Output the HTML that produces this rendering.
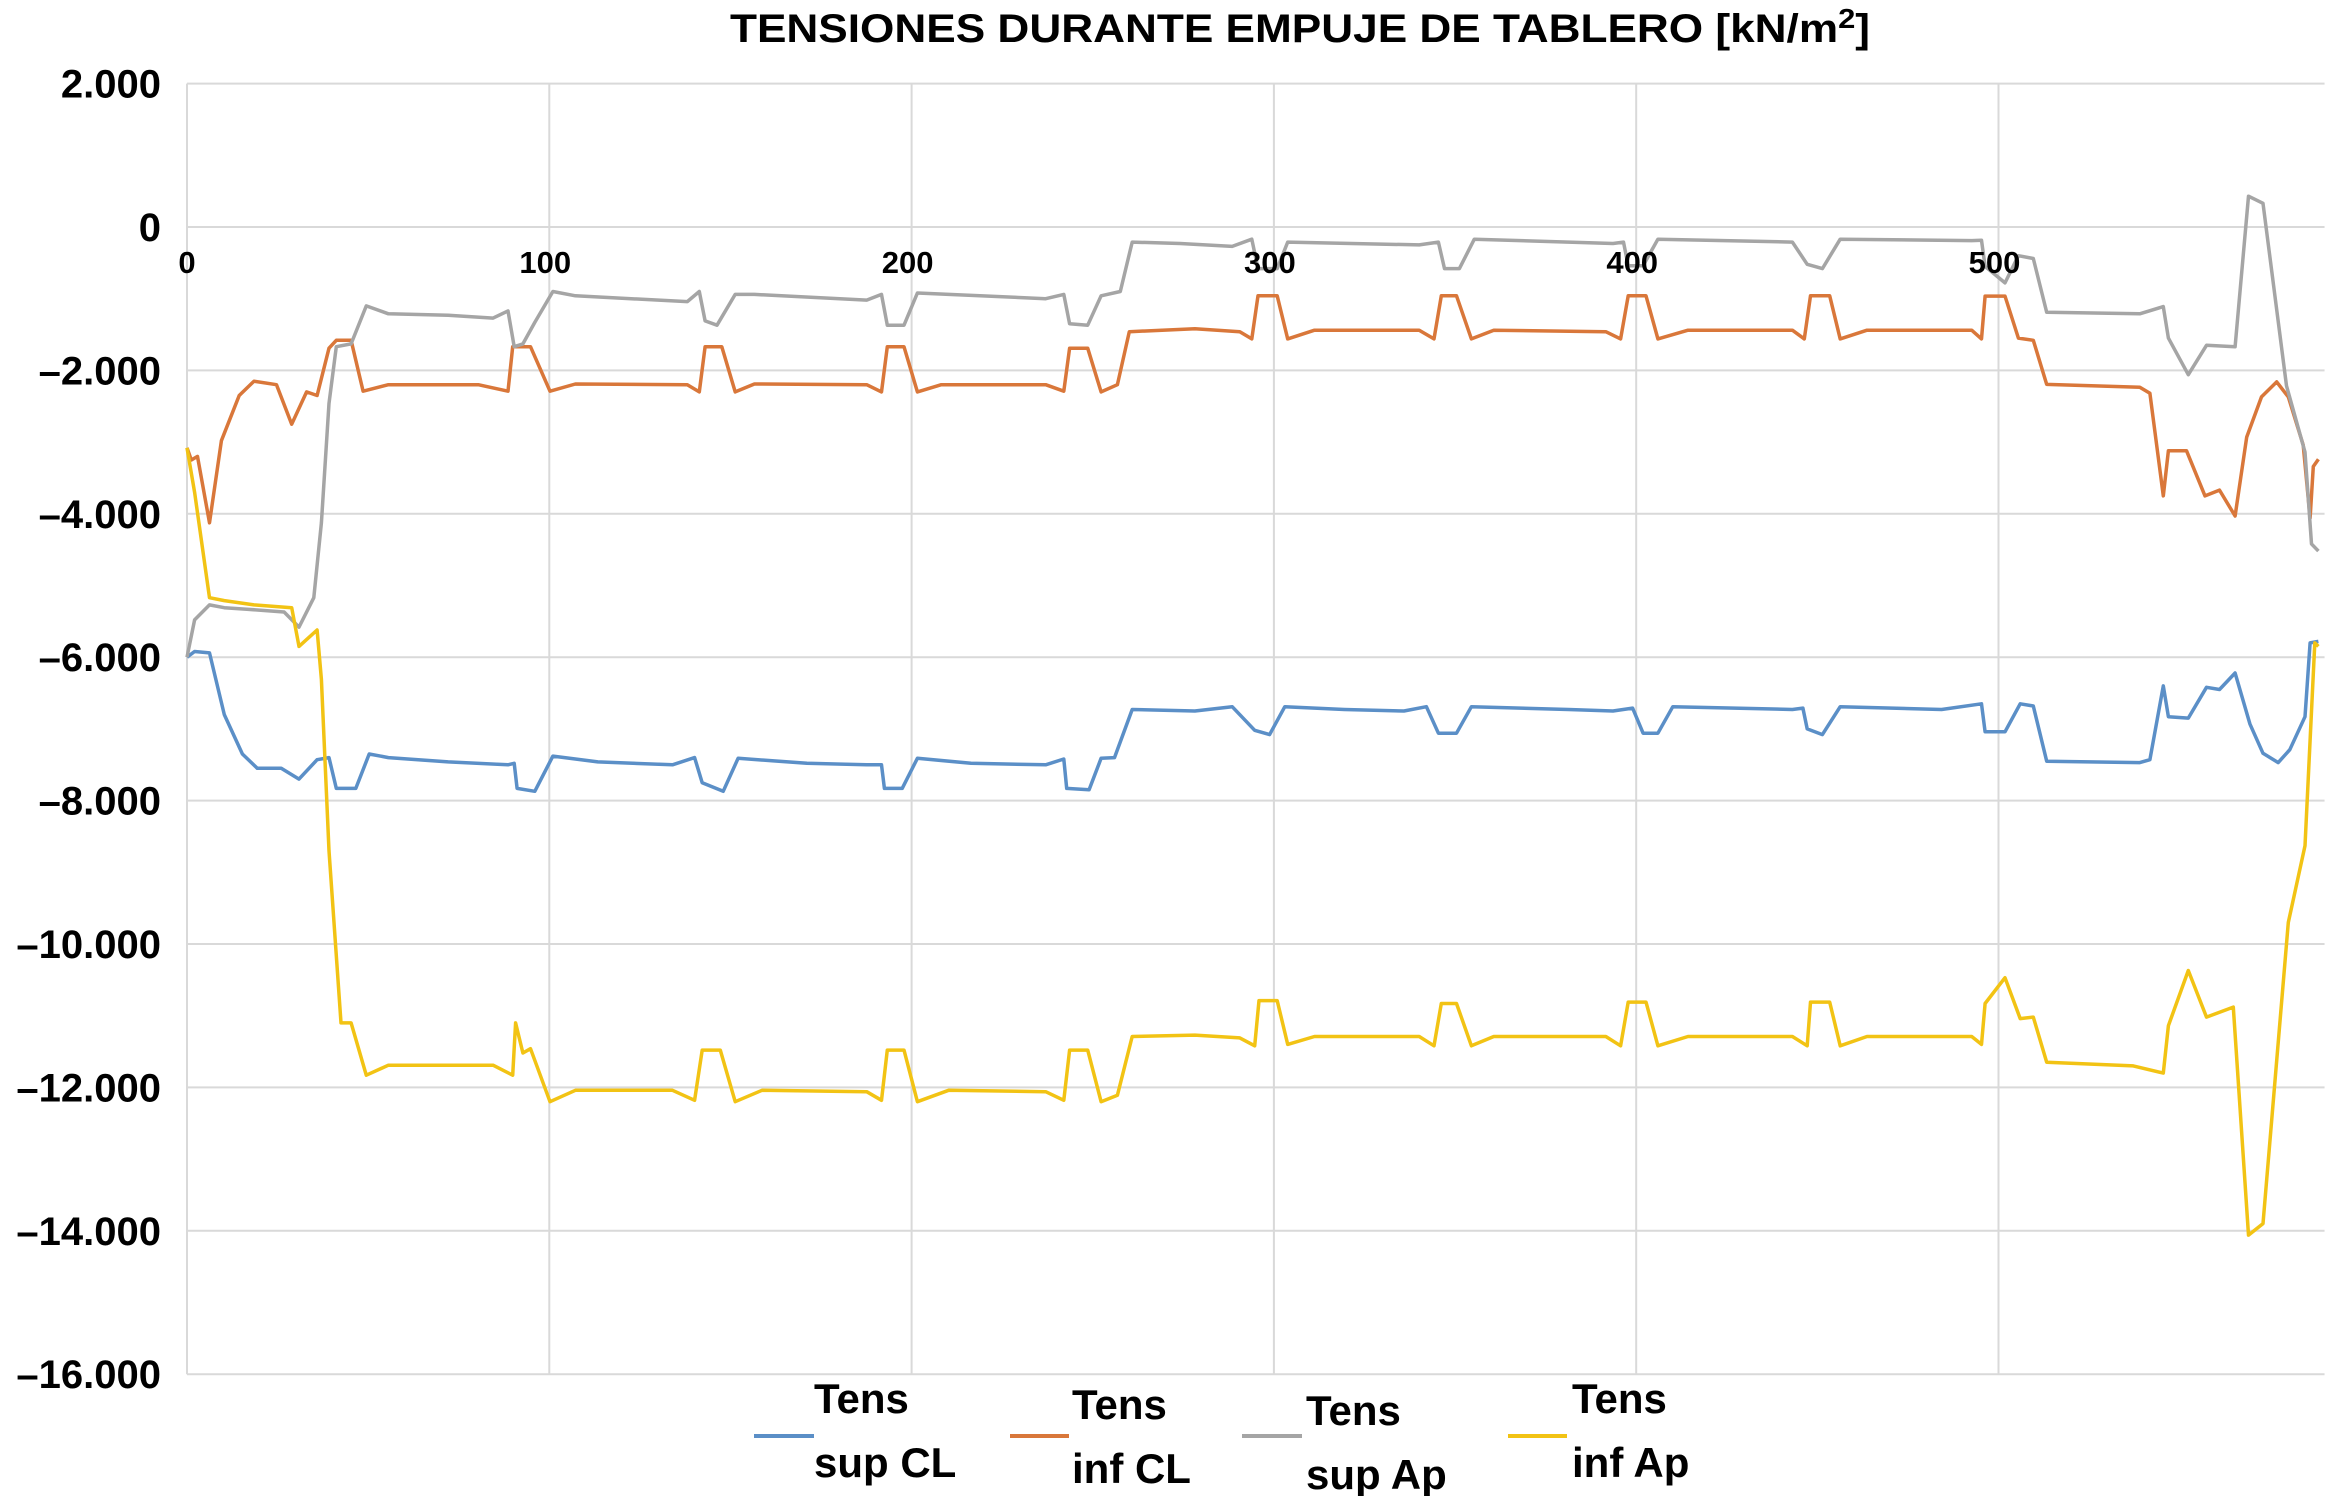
<!DOCTYPE html>
<html><head><meta charset="utf-8"><style>
html,body{margin:0;padding:0;background:#fff}
svg text{font-family:"Liberation Sans Narrow","Liberation Sans",sans-serif;font-weight:bold;fill:#000}
</style></head><body>
<svg id="chart" width="2331" height="1496" viewBox="0 0 2331 1496" xmlns="http://www.w3.org/2000/svg">
<text x="1300" y="42" text-anchor="middle" font-size="40" textLength="1140" lengthAdjust="spacingAndGlyphs">TENSIONES DURANTE EMPUJE DE TABLERO [kN/m<tspan font-size="28" dy="-14">2</tspan><tspan dy="14">]</tspan></text>
<g id="grid"></g>
<g id="series"></g>
<g id="axes"></g>
<g id="legend">
 <g>
  <line x1="754" y1="1436" x2="814" y2="1436" stroke="#5b8fc7" stroke-width="4"/>
  <text x="814" y="1413" font-size="42">Tens</text><text x="814" y="1477" font-size="42">sup CL</text></g>
 <g>
  <line x1="1010" y1="1436" x2="1069" y2="1436" stroke="#d9773a" stroke-width="4"/>
  <text x="1072" y="1419" font-size="42">Tens</text><text x="1072" y="1483" font-size="42">inf CL</text></g>
 <g>
  <line x1="1242" y1="1436" x2="1302" y2="1436" stroke="#a5a5a5" stroke-width="4"/>
  <text x="1306" y="1425" font-size="42">Tens</text><text x="1306" y="1489" font-size="42">sup Ap</text></g>
 <g>
  <line x1="1508" y1="1436" x2="1567" y2="1436" stroke="#f2c314" stroke-width="4"/>
  <text x="1572" y="1413" font-size="42">Tens</text><text x="1572" y="1477" font-size="42">inf Ap</text></g>
</g>
</svg>
<script>
const yTicks=[2000,0,-2000,-4000,-6000,-8000,-10000,-12000,-14000,-16000];
const yTickLabels=["2.000","0","\u20132.000","\u20134.000","\u20136.000","\u20138.000","\u201310.000","\u201312.000","\u201314.000","\u201316.000"];
const xTicks=[0,100,200,300,400,500];
const xTickLabels=["0","100","200","300","400","500"];
const seriesNames=["Tens sup CL","Tens inf CL","Tens sup Ap","Tens inf Ap"];
const supCL=[[0,-6000],[2.1,-5920],[6.2,-5940],[10.3,-6800],[15.3,-7350],[19.4,-7550],[26,-7550],[30.9,-7700],[35.9,-7430],[39.2,-7400],[41.2,-7830],[46.6,-7830],[50.3,-7350],[55.6,-7400],[72.1,-7460],[88.6,-7500],[90.3,-7480],[91.1,-7830],[96,-7870],[101,-7380],[113.4,-7460],[134,-7500],[140.1,-7400],[142.2,-7750],[148,-7870],[152.1,-7410],[171.1,-7480],[187.6,-7500],[191.7,-7500],[192.5,-7830],[197.4,-7830],[201.6,-7410],[216.4,-7480],[237,-7500],[242,-7420],[242.8,-7830],[249,-7850],[252.3,-7410],[256,-7400],[260.9,-6730],[278.2,-6750],[288.5,-6690],[294.7,-7020],[298.8,-7080],[303,-6690],[319.5,-6730],[335.9,-6750],[342.1,-6690],[345.4,-7060],[350.4,-7060],[354.5,-6690],[381.3,-6730],[393.6,-6750],[399,-6710],[401.9,-7060],[406,-7060],[410.1,-6690],[443.1,-6730],[446,-6710],[447.2,-7000],[451.4,-7080],[456.3,-6690],[484.3,-6730],[495.3,-6650],[496.3,-7040],[501.8,-7040],[506,-6650],[509.6,-6680],[513.3,-7450],[539,-7470],[541.8,-7430],[545.5,-6400],[546.9,-6830],[552.4,-6850],[557.4,-6420],[561,-6450],[565.3,-6220],[569.4,-6930],[573,-7340],[577.2,-7470],[580.4,-7290],[584.6,-6830],[586,-5800],[588.3,-5780]];
const infCL=[[0,-3080],[1.2,-3250],[2.9,-3200],[6.2,-4125],[9.5,-2980],[14.4,-2350],[18.5,-2150],[24.7,-2200],[28.9,-2750],[33,-2300],[35.9,-2350],[39.2,-1690],[41.2,-1580],[45.3,-1580],[48.6,-2290],[55.6,-2200],[80.4,-2200],[88.6,-2290],[89.9,-1670],[94.8,-1670],[100.2,-2290],[107.2,-2190],[138.1,-2200],[141.4,-2300],[143,-1670],[147.6,-1670],[151.3,-2300],[156.6,-2190],[187.6,-2200],[191.7,-2300],[193.3,-1670],[197.9,-1670],[201.6,-2300],[208.2,-2200],[237,-2200],[242,-2290],[243.6,-1690],[248.6,-1690],[252.3,-2300],[256.8,-2200],[260.1,-1460],[278.2,-1420],[290.6,-1460],[293.9,-1560],[295.6,-960],[300.9,-960],[303.8,-1560],[311.2,-1440],[340.1,-1440],[344.2,-1560],[346.2,-960],[350.4,-960],[354.5,-1560],[360.7,-1440],[391.6,-1460],[395.7,-1560],[397.8,-960],[402.7,-960],[406,-1560],[414.3,-1440],[443.1,-1440],[446.4,-1560],[448.1,-960],[453.4,-960],[456.3,-1560],[463.7,-1440],[492.6,-1440],[495.3,-1560],[496.3,-964],[501.8,-964],[505.5,-1550],[509.6,-1580],[513.3,-2195],[539,-2235],[541.8,-2320],[545.5,-3750],[546.9,-3120],[551.9,-3120],[557,-3750],[561,-3670],[565.3,-4030],[568.5,-2930],[572.6,-2370],[576.8,-2160],[580,-2370],[584.1,-3040],[586,-4060],[586.9,-3340],[588.3,-3240]];
const supAp=[[0,-6000],[2.1,-5480],[6.2,-5270],[10.3,-5310],[16.5,-5330],[26.8,-5370],[30.9,-5580],[35,-5170],[37.1,-4125],[39.2,-2460],[41.2,-1670],[45.3,-1630],[49.5,-1100],[55.6,-1210],[72.1,-1230],[84.5,-1270],[88.6,-1170],[90.3,-1670],[92.7,-1630],[96,-1330],[101,-900],[107.2,-960],[138.1,-1040],[141.4,-900],[143,-1310],[146.3,-1370],[151.3,-940],[156.6,-940],[187.6,-1020],[191.7,-940],[193.3,-1370],[197.9,-1370],[201.6,-920],[237,-1000],[242,-940],[243.6,-1350],[248.6,-1370],[252.3,-960],[257.6,-900],[260.9,-210],[274.1,-230],[288.5,-270],[293.9,-170],[295.6,-580],[300.9,-580],[303.8,-210],[340.1,-250],[345.4,-210],[347.1,-580],[351.2,-580],[355.3,-170],[393.6,-230],[396.5,-210],[397.8,-540],[401.9,-540],[406,-170],[443.1,-210],[447.2,-520],[451.4,-580],[456.3,-170],[492.6,-190],[495.3,-185],[496.3,-550],[501.8,-780],[505.5,-400],[509.6,-440],[513.3,-1190],[539,-1210],[545.5,-1110],[546.9,-1550],[552.4,-2060],[557.4,-1650],[565.3,-1670],[569,430],[573,330],[579.5,-2215],[584.6,-3140],[586.4,-4420],[588.3,-4520]];
const infAp=[[0,-3080],[2.1,-3700],[6.2,-5170],[10.3,-5210],[18.5,-5270],[28.9,-5310],[30.9,-5850],[35.9,-5620],[37.1,-6310],[39.2,-8700],[42.5,-11100],[45.3,-11100],[49.5,-11830],[55.6,-11690],[72.1,-11690],[84.5,-11690],[89.9,-11830],[90.7,-11100],[92.7,-11520],[94.8,-11460],[100.2,-12200],[107.2,-12040],[134,-12040],[140.1,-12180],[142.2,-11480],[147.2,-11480],[151.3,-12200],[158.7,-12040],[187.6,-12060],[191.7,-12180],[193.3,-11480],[197.9,-11480],[201.6,-12200],[210.2,-12040],[237,-12060],[242,-12180],[243.6,-11480],[248.6,-11480],[252.3,-12200],[256.8,-12110],[260.9,-11290],[278.2,-11270],[290.6,-11310],[294.7,-11420],[295.9,-10790],[300.9,-10790],[303.8,-11400],[311.2,-11290],[340.1,-11290],[344.2,-11420],[346.2,-10830],[350.4,-10830],[354.5,-11420],[360.7,-11290],[391.6,-11290],[395.7,-11420],[397.8,-10810],[402.7,-10810],[406,-11420],[414.3,-11290],[443.1,-11290],[447.2,-11420],[448.1,-10810],[453.4,-10810],[456.3,-11420],[463.7,-11290],[492.6,-11290],[495.3,-11400],[496.3,-10830],[501.8,-10470],[506,-11040],[509.6,-11020],[513.3,-11650],[537.2,-11700],[545.5,-11800],[546.9,-11140],[552.4,-10370],[557.4,-11020],[564.8,-10880],[569,-14060],[573,-13900],[580,-9700],[584.6,-8630],[587.3,-5800],[588.3,-5850]];

const NS="http://www.w3.org/2000/svg";
const X0=187, XS=3.623, Y0=227, YS=143.4/2000;
function xPos(v){return X0+v*XS;}
function yPos(v){return Y0-v*YS;}
function mk(tag,attrs,parent){const e=document.createElementNS(NS,tag);for(const k in attrs)e.setAttribute(k,attrs[k]);parent.appendChild(e);return e;}
const grid=document.getElementById('grid'), axes=document.getElementById('axes'), sg=document.getElementById('series');
const xMax=590;
yTicks.forEach((t,i)=>{
  const l=mk('line',{x1:X0,x2:xPos(xMax),y1:yPos(t),y2:yPos(t),stroke:'#d9d9d9','stroke-width':2},grid);
  
  
  const tx=mk('text',{x:161,y:yPos(t)+14,'text-anchor':'end','font-size':40},axes);
  tx.textContent=yTickLabels[i];
  
  
});
xTicks.forEach((t,i)=>{
  const l=mk('line',{x1:xPos(t),x2:xPos(t),y1:yPos(2000),y2:yPos(-16000),stroke:'#d9d9d9','stroke-width':2},grid);
  
  
  const tx=mk('text',{x:xPos(t)+(t===0?0:-4),y:yPos(0)+46,'text-anchor':'middle','font-size':31},axes);
  tx.textContent=xTickLabels[i];
  
  
});
const allSeries=[supCL,infCL,supAp,infAp];
const colors=['#5b8fc7','#d9773a','#a5a5a5','#f2c314'];
const snames=['series-tens-sup-cl','series-tens-inf-cl','series-tens-sup-ap','series-tens-inf-ap'];
allSeries.forEach((s,i)=>{
  const d=s.map((p,j)=>(j?'L':'M')+xPos(p[0]).toFixed(1)+' '+yPos(p[1]).toFixed(1)).join(' ');
  const p=mk('path',{d:d,fill:'none',stroke:colors[i],'stroke-width':3.5,'stroke-linejoin':'round'},sg);
  
  
});
</script>
</body></html>
